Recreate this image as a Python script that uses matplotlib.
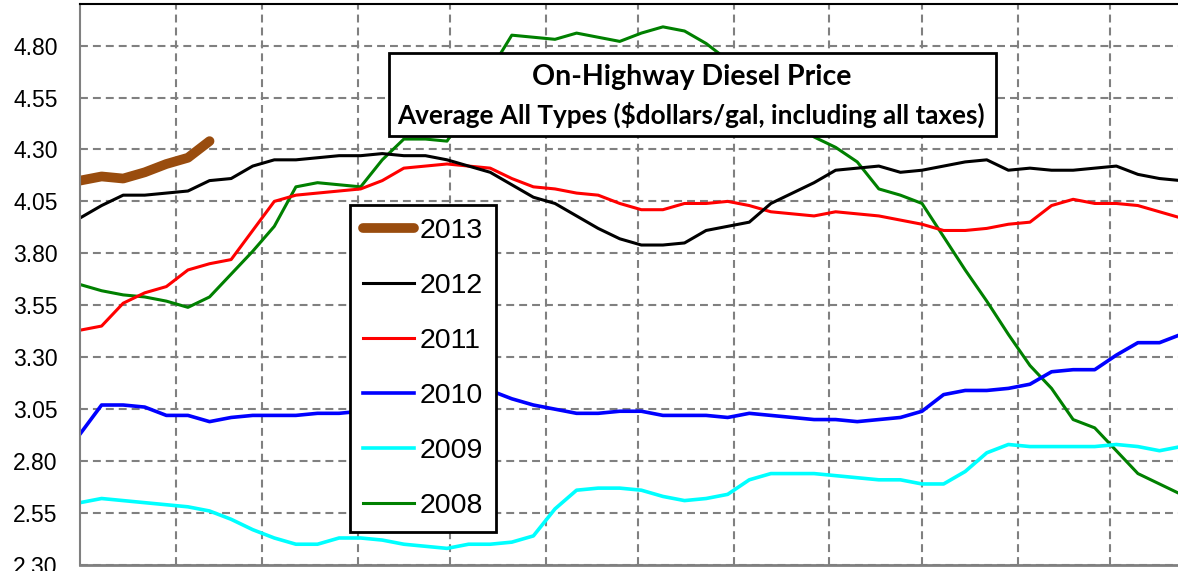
"""
Weekly on-highway diesel price, one line per year (2008-2013).
"""

import matplotlib

matplotlib.use("Agg")
import matplotlib.pyplot as plt
import numpy as np
from matplotlib.patches import Rectangle

# ============================================================
# Data (weekly prices, $/gal)
# ============================================================

years = ["2013", "2012", "2011", "2010", "2009", "2008"]

price_2013 = [4.15, 4.17, 4.16, 4.19, 4.23, 4.26, 4.34]

price_2012 = [3.97, 4.03, 4.08, 4.08, 4.09, 4.10, 4.15, 4.16, 4.22, 4.25,
              4.25, 4.26, 4.27, 4.27, 4.28, 4.27, 4.27, 4.25, 4.22, 4.19,
              4.13, 4.07, 4.04, 3.98, 3.92, 3.87, 3.84, 3.84, 3.85, 3.91,
              3.93, 3.95, 4.04, 4.09, 4.14, 4.20, 4.21, 4.22, 4.19, 4.20,
              4.22, 4.24, 4.25, 4.20, 4.21, 4.20, 4.20, 4.21, 4.22, 4.18,
              4.16, 4.15]

price_2011 = [3.43, 3.45, 3.56, 3.61, 3.64, 3.72, 3.75, 3.77, 3.91, 4.05,
              4.08, 4.09, 4.10, 4.11, 4.15, 4.21, 4.22, 4.23, 4.22, 4.21,
              4.16, 4.12, 4.11, 4.09, 4.08, 4.04, 4.01, 4.01, 4.04, 4.04,
              4.05, 4.03, 4.00, 3.99, 3.98, 4.00, 3.99, 3.98, 3.96, 3.94,
              3.91, 3.91, 3.92, 3.94, 3.95, 4.03, 4.06, 4.04, 4.04, 4.03,
              4.00, 3.97]

price_2010 = [2.93, 3.07, 3.07, 3.06, 3.02, 3.02, 2.99, 3.01, 3.02, 3.02,
              3.02, 3.03, 3.03, 3.04, 3.05, 3.06, 3.08, 3.10, 3.12, 3.14,
              3.10, 3.07, 3.05, 3.03, 3.03, 3.04, 3.04, 3.02, 3.02, 3.02,
              3.01, 3.03, 3.02, 3.01, 3.00, 3.00, 2.99, 3.00, 3.01, 3.04,
              3.12, 3.14, 3.14, 3.15, 3.17, 3.23, 3.24, 3.24, 3.31, 3.37,
              3.37, 3.41]

price_2009 = [2.60, 2.62, 2.61, 2.60, 2.59, 2.58, 2.56, 2.52, 2.47, 2.43,
              2.40, 2.40, 2.43, 2.43, 2.42, 2.40, 2.39, 2.38, 2.40, 2.40,
              2.41, 2.44, 2.57, 2.66, 2.67, 2.67, 2.66, 2.63, 2.61, 2.62,
              2.64, 2.71, 2.74, 2.74, 2.74, 2.73, 2.72, 2.71, 2.71, 2.69,
              2.69, 2.75, 2.84, 2.88, 2.87, 2.87, 2.87, 2.87, 2.88, 2.87,
              2.85, 2.87]

price_2008 = [3.65, 3.62, 3.60, 3.59, 3.57, 3.54, 3.59, 3.70, 3.81, 3.93,
              4.12, 4.14, 4.13, 4.12, 4.25, 4.35, 4.35, 4.34, 4.50, 4.68,
              4.85, 4.84, 4.83, 4.86, 4.84, 4.82, 4.86, 4.89, 4.87, 4.81,
              4.73, 4.64, 4.55, 4.45, 4.36, 4.31, 4.24, 4.11, 4.08, 4.04,
              3.88, 3.72, 3.57, 3.41, 3.26, 3.15, 3.00, 2.96, 2.85, 2.74,
              2.69, 2.64]

# day-of-year where each month starts (vertical grid lines)
month_starts = [31, 59, 90, 120, 151, 181, 212, 243, 273, 304, 334]

y_ticks = [2.30, 2.55, 2.80, 3.05, 3.30, 3.55, 3.80, 4.05, 4.30, 4.55, 4.80]

title_main = "On-Highway Diesel Price"
title_sub = r"Average All Types (\$dollars/gal, including all taxes)"

# ============================================================
# Figure
# ============================================================

W, H = 1178, 571
fig = plt.figure(figsize=(W / 100, H / 100), dpi=100)
ax = fig.add_axes([80 / W, 6 / H, 1 - 80 / W, 561 / H])


def weeks(values):
    return np.arange(len(values)) * 7


series = [
    (price_2008, "2008", "#008000", 2.2),
    (price_2009, "2009", "#00FFFF", 2.6),
    (price_2010, "2010", "#0000FF", 2.6),
    (price_2011, "2011", "#FF0000", 2.2),
    (price_2012, "2012", "#000000", 2.2),
]

handles = {}
for vals, label, color, lw in series:
    (line,) = ax.plot(weeks(vals), vals, color=color, lw=lw, label=label)
    handles[label] = line

(line,) = ax.plot(weeks(price_2013), price_2013, color="#994C0E", lw=7,
                  solid_capstyle="round", label="2013")
handles["2013"] = line

ax.set_xlim(0, 356)
ax.set_ylim(2.30, 5.00)

ax.set_yticks(y_ticks)
ax.set_yticklabels([f"{v:.2f}" for v in y_ticks],
                   fontfamily="Liberation Sans", fontsize=16.5)
ax.set_xticks(month_starts)
ax.set_xticklabels([])
ax.tick_params(length=0)
ax.tick_params(axis="y", pad=16)

ax.grid(True, color="#808080", linestyle=(0, (3.8, 2.4)), linewidth=1.5)
ax.set_axisbelow(True)

ax.spines["right"].set_visible(False)
ax.spines["left"].set_color("#808080")
ax.spines["left"].set_linewidth(1.5)
ax.spines["bottom"].set_color("#808080")
ax.spines["bottom"].set_linewidth(2)
ax.spines["top"].set_color("black")
ax.spines["top"].set_linewidth(1.5)

leg = ax.legend(
    [handles[y] for y in years], years,
    loc="upper left",
    bbox_to_anchor=(350 / W, 1 - 205 / H),
    bbox_transform=fig.transFigure,
    borderaxespad=0,
    fancybox=False,
    framealpha=1,
    edgecolor="black",
    prop={"family": "Liberation Sans", "size": 20.5},
    handlelength=1.8,
    handletextpad=0.2,
    labelspacing=1.02,
    borderpad=0.45,
)
leg.get_frame().set_linewidth(2)

# title box
box = Rectangle((389 / W, 1 - 136 / H), (996 - 389) / W, (136 - 53) / H,
                transform=fig.transFigure, facecolor="white",
                edgecolor="black", lw=2, zorder=5)
fig.add_artist(box)
fig.text(692 / W, 1 - 77 / H, title_main, ha="center", va="center",
         fontsize=20.5, fontweight="bold", family="Lato", zorder=6)
fig.text(691 / W, 1 - 115 / H, title_sub, ha="center", va="center",
         fontsize=18.8, fontweight="bold", family="Lato", zorder=6)

fig.savefig("out.png", dpi=100)
